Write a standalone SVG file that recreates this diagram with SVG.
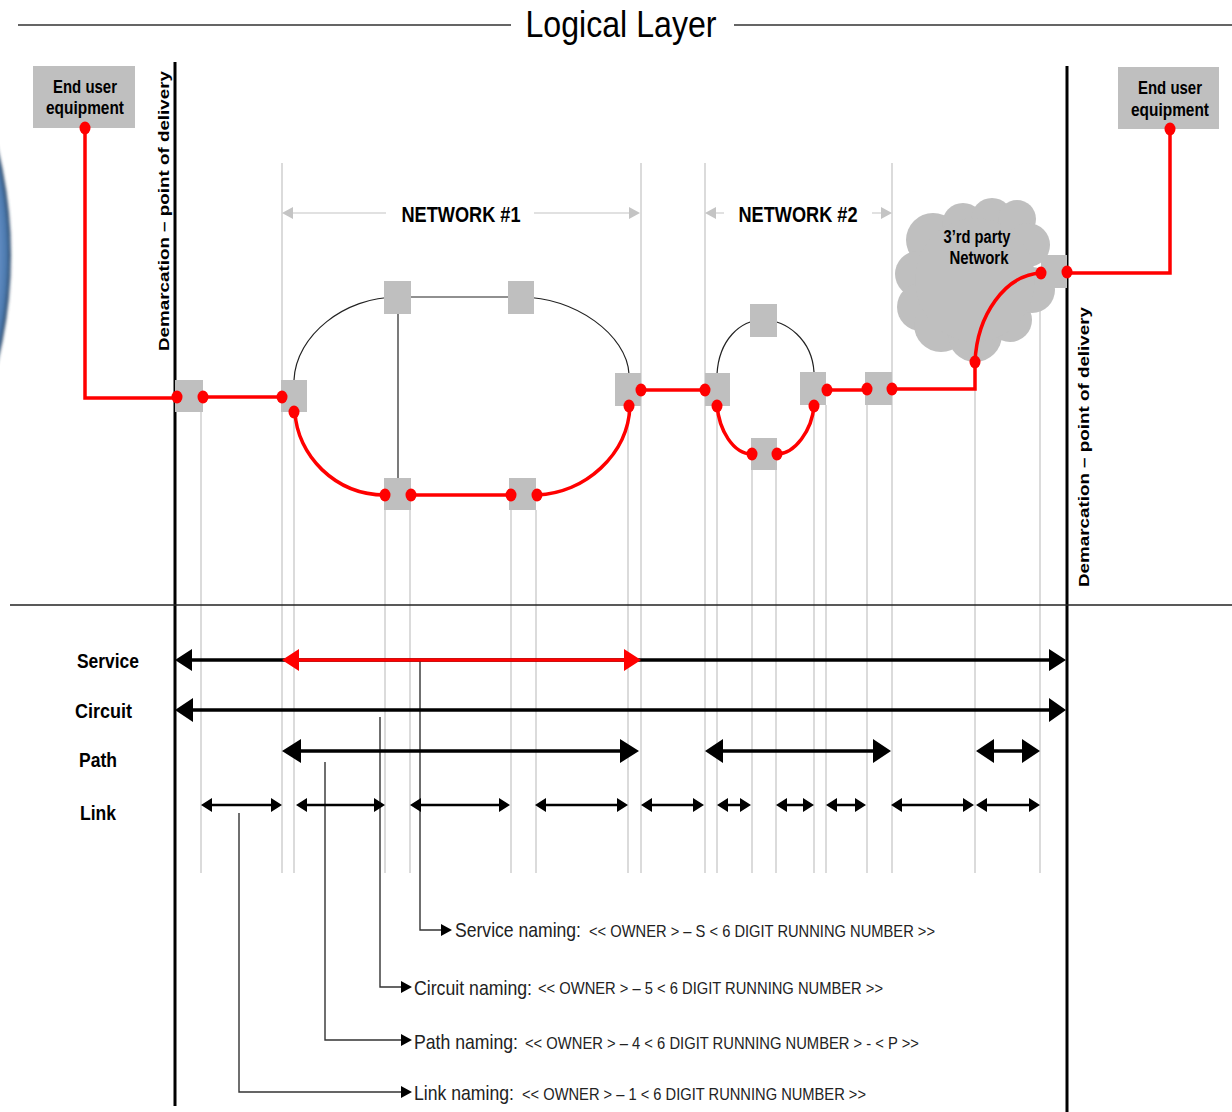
<svg xmlns="http://www.w3.org/2000/svg" width="1232" height="1112" viewBox="0 0 1232 1112">
<style>
text{font-family:"Liberation Sans",Arial,sans-serif;fill:#000}
.b{font-weight:700}
.g{fill:#bfbfbf}
.gl{stroke:#c4c4c4;stroke-width:1.2;fill:none}
.r{stroke:#f00;stroke-width:3.5;fill:none}
.k{stroke:#222;stroke-width:1.2;fill:none}
.d{fill:#f00}
.a3{stroke:#000;stroke-width:3.5;fill:none}
.a2{stroke:#000;stroke-width:2.5;fill:none}
.c{stroke:#333;stroke-width:1.4;fill:none}
.lab{font-size:21px;font-weight:700}
.nm{font-size:21px;fill:#222}
.fm{font-size:17px;fill:#222}
</style>
<defs>
<radialGradient id="orb" gradientUnits="userSpaceOnUse" cx="-430" cy="255" r="441">
<stop offset="0.975" stop-color="#5f8ac0"/><stop offset="0.99" stop-color="#4a78ad"/><stop offset="1" stop-color="#2c4560"/>
</radialGradient>
<filter id="soft" x="-10%" y="-10%" width="120%" height="120%"><feGaussianBlur stdDeviation="1.8"/></filter>
</defs>

<circle id="orb-edge" cx="-430" cy="255" r="441" fill="url(#orb)" filter="url(#soft)"/>

<g id="guides" class="gl">
<path d="M201 405V873M282 163V873M294 410V873M385 510V873M410 510V873M511 510V873M536 510V873M628 405V873M641 163V873M705 163V873M717 405V873M752 470V873M776 470V873M814 405V873M826 405V873M867 405V873M892 163V873M975 370V873M1040 300V873"/>
</g>

<g id="title">
<path d="M18 25H511M734 25H1232" stroke="#333" stroke-width="1.4"/>
<text x="621" y="37" font-size="37" text-anchor="middle" textLength="191" lengthAdjust="spacingAndGlyphs">Logical Layer</text>
</g>

<g id="demarcation-left">
<path d="M175 62V1106" stroke="#000" stroke-width="3"/>
<text transform="translate(169 351) rotate(-90)" font-size="15.5" class="b" textLength="280" lengthAdjust="spacingAndGlyphs">Demarcation – point of delivery</text>
</g>
<g id="demarcation-right">
<path d="M1067 66V1112" stroke="#000" stroke-width="3"/>
<text transform="translate(1089 587) rotate(-90)" font-size="15.5" class="b" textLength="280" lengthAdjust="spacingAndGlyphs">Demarcation – point of delivery</text>
</g>
<path id="divider" d="M10 605H1232" stroke="#222" stroke-width="1.4"/>

<g id="eq-left">
<rect x="33" y="66" width="102" height="62" class="g"/>
<text x="85" y="93" font-size="19" class="b" text-anchor="middle" textLength="64" lengthAdjust="spacingAndGlyphs">End user</text>
<text x="85" y="114" font-size="19" class="b" text-anchor="middle" textLength="78" lengthAdjust="spacingAndGlyphs">equipment</text>
</g>
<g id="eq-right">
<rect x="1118" y="67" width="101" height="62" class="g"/>
<text x="1170" y="94" font-size="19" class="b" text-anchor="middle" textLength="64" lengthAdjust="spacingAndGlyphs">End user</text>
<text x="1170" y="116" font-size="19" class="b" text-anchor="middle" textLength="78" lengthAdjust="spacingAndGlyphs">equipment</text>
</g>

<g id="network-1-label">
<path d="M290 213H386M534 213H632" stroke="#c4c4c4" stroke-width="1.2"/>
<path d="M282 213L293 207V219ZM640 213L629 207V219Z" fill="#c4c4c4"/>
<text x="461" y="222" font-size="22" class="b" text-anchor="middle" textLength="119" lengthAdjust="spacingAndGlyphs">NETWORK #1</text>
</g>
<g id="network-2-label">
<path d="M712 213H724M872 213H884" stroke="#c4c4c4" stroke-width="1.2"/>
<path d="M705 213L716 207V219ZM892 213L881 207V219Z" fill="#c4c4c4"/>
<text x="798" y="222" font-size="22" class="b" text-anchor="middle" textLength="119" lengthAdjust="spacingAndGlyphs">NETWORK #2</text>
</g>

<g id="cloud" class="g">
<circle cx="933" cy="240" r="27"/><circle cx="963" cy="224" r="21"/><circle cx="992" cy="219" r="21"/><circle cx="1017" cy="219" r="19"/><circle cx="1028" cy="245" r="22"/><circle cx="918" cy="274" r="23"/><circle cx="921" cy="307" r="24"/><circle cx="941" cy="325" r="27"/><circle cx="975" cy="335" r="27"/><circle cx="1010" cy="320" r="22"/><circle cx="1032" cy="290" r="23"/><ellipse cx="975" cy="280" rx="60" ry="62"/>
<text x="977" y="243" font-size="18" class="b" text-anchor="middle" textLength="67" lengthAdjust="spacingAndGlyphs">3’rd party</text>
<text x="979" y="264" font-size="18" class="b" text-anchor="middle" textLength="59" lengthAdjust="spacingAndGlyphs">Network</text>
</g>

<g id="thin-links" class="k">
<path d="M294 380C296 335 345 297 397 297H521C575 297 627 335 629 374"/>
<path d="M398 314V478"/>
<path d="M717 374C719 340 740 320 763 320C787 320 812 340 814 372"/>
</g>

<g id="nodes" class="g">
<rect id="n1" x="175" y="380" width="28" height="32"/>
<rect id="n2" x="281" y="380" width="26" height="32"/>
<rect id="n3" x="384" y="281" width="27" height="33"/>
<rect id="n4" x="508" y="281" width="26" height="33"/>
<rect id="n5" x="384" y="478" width="27" height="32"/>
<rect id="n6" x="509" y="478" width="27" height="32"/>
<rect id="n7" x="615" y="373" width="26" height="33"/>
<rect id="n8" x="705" y="373" width="25" height="33"/>
<rect id="n9" x="750" y="304" width="27" height="33"/>
<rect id="n10" x="751" y="438" width="26" height="32"/>
<rect id="n11" x="800" y="372" width="26" height="33"/>
<rect id="n12" x="865" y="372" width="27" height="33"/>
<rect id="n13" x="1041" y="255" width="26" height="33"/>
</g>

<g id="red-links" class="r">
<path d="M85 128V398H177"/>
<path d="M203 397H282"/>
<path d="M295 412C297 455 335 495 385 495"/>
<path d="M411 495H511"/>
<path d="M537 495C585 493 628 455 630 406"/>
<path d="M641 390H705"/>
<path d="M717 405C719 430 733 454 752 454"/>
<path d="M777 454C795 454 812 430 814 406"/>
<path d="M827 390H867"/>
<path d="M892 389H975V362C977 315 1005 275 1041 273"/>
<path d="M1067 273H1170V129"/>
</g>
<g id="red-dots" class="d">
<ellipse cx="85" cy="128" rx="5.5" ry="6.5"/><ellipse cx="177" cy="397" rx="5.5" ry="6.5"/><ellipse cx="203" cy="397" rx="5.5" ry="6.5"/><ellipse cx="282" cy="397" rx="5.5" ry="6.5"/><ellipse cx="294" cy="412" rx="5.5" ry="6.5"/>
<ellipse cx="385" cy="495" rx="5.5" ry="6.5"/><ellipse cx="411" cy="495" rx="5.5" ry="6.5"/><ellipse cx="511" cy="495" rx="5.5" ry="6.5"/><ellipse cx="537" cy="495" rx="5.5" ry="6.5"/>
<ellipse cx="629" cy="406" rx="5.5" ry="6.5"/><ellipse cx="641" cy="390" rx="5.5" ry="6.5"/><ellipse cx="705" cy="390" rx="5.5" ry="6.5"/><ellipse cx="717" cy="406" rx="5.5" ry="6.5"/>
<ellipse cx="752" cy="454" rx="5.5" ry="6.5"/><ellipse cx="777" cy="454" rx="5.5" ry="6.5"/><ellipse cx="814" cy="406" rx="5.5" ry="6.5"/><ellipse cx="827" cy="390" rx="5.5" ry="6.5"/>
<ellipse cx="867" cy="389" rx="5.5" ry="6.5"/><ellipse cx="892" cy="389" rx="5.5" ry="6.5"/><ellipse cx="975" cy="362" rx="5.5" ry="6.5"/><ellipse cx="1041" cy="273" rx="5.5" ry="6.5"/><ellipse cx="1067" cy="272" rx="5.5" ry="6.5"/><ellipse cx="1170" cy="129" rx="5.5" ry="6.5"/>
</g>

<g id="labels" class="lab">
<text x="77" y="668" textLength="62" lengthAdjust="spacingAndGlyphs">Service</text>
<text x="75" y="718" textLength="57" lengthAdjust="spacingAndGlyphs">Circuit</text>
<text x="79" y="767" textLength="38" lengthAdjust="spacingAndGlyphs">Path</text>
<text x="80" y="820" textLength="36" lengthAdjust="spacingAndGlyphs">Link</text>
</g>

<g id="callout-lines" class="c">
<path d="M420 660V930H442"/>
<path d="M380 717V987H402"/>
<path d="M325 762V1040H402"/>
<path d="M239 813V1092H402"/>
</g>

<g id="span-arrows">
<g id="service">
<path d="M190 660H1052" class="a3"/>
<path d="M175 660L192 649V671ZM1066 660L1049 649V671Z" fill="#000"/>
<path d="M298 660H626" stroke="#f00" stroke-width="3.5"/>
<path d="M282 660L299 649V671ZM641 660L624 649V671Z" fill="#f00"/>
</g>
<g id="circuit">
<path d="M190 710H1052" class="a3"/>
<path d="M175 710L193 698V722ZM1066 710L1049 698V722Z" fill="#000"/>
</g>
<g id="path">
<path d="M298 751H625M720 751H876M990 751H1026" class="a3"/>
<path d="M282 751L301 739V763ZM639 751L620 739V763ZM705 751L723 739V763ZM891 751L873 739V763ZM976 751L994 739V763ZM1040 751L1022 739V763Z" fill="#000"/>
</g>
<g id="link">
<path d="M208 805H276M303 805H379M417 805H504M542 805H621M648 805H698M724 805H745M783 805H808M833 805H860M898 805H968M983 805H1034" class="a2"/>
<path d="M201 805L212 798V812ZM282 805L271 798V812ZM296 805L307 798V812ZM385 805L374 798V812ZM410 805L421 798V812ZM510 805L499 798V812ZM535 805L546 798V812ZM628 805L617 798V812ZM641 805L652 798V812ZM704 805L693 798V812ZM717 805L728 798V812ZM751 805L740 798V812ZM776 805L787 798V812ZM814 805L803 798V812ZM826 805L837 798V812ZM866 805L855 798V812ZM891 805L902 798V812ZM974 805L963 798V812ZM976 805L987 798V812ZM1040 805L1029 798V812Z" fill="#000"/>
</g>
<path id="callout-heads" d="M452 930L441 924V936ZM412 987L401 981V993ZM412 1040L401 1034V1046ZM412 1092L401 1086V1098Z" fill="#000"/>
</g>

<g id="naming">
<text x="455" y="937" class="nm" textLength="126" lengthAdjust="spacingAndGlyphs">Service naming:</text>
<text x="589" y="937" class="fm" textLength="346" lengthAdjust="spacingAndGlyphs">&lt;&lt; OWNER &gt; – S &lt; 6 DIGIT RUNNING NUMBER &gt;&gt;</text>
<text x="414" y="995" class="nm" textLength="118" lengthAdjust="spacingAndGlyphs">Circuit naming:</text>
<text x="538" y="994" class="fm" textLength="345" lengthAdjust="spacingAndGlyphs">&lt;&lt; OWNER &gt; – 5 &lt; 6 DIGIT RUNNING NUMBER &gt;&gt;</text>
<text x="414" y="1049" class="nm" textLength="104" lengthAdjust="spacingAndGlyphs">Path naming:</text>
<text x="525" y="1049" class="fm" textLength="394" lengthAdjust="spacingAndGlyphs">&lt;&lt; OWNER &gt; – 4 &lt; 6 DIGIT RUNNING NUMBER &gt; - &lt; P &gt;&gt;</text>
<text x="414" y="1100" class="nm" textLength="100" lengthAdjust="spacingAndGlyphs">Link naming:</text>
<text x="522" y="1100" class="fm" textLength="344" lengthAdjust="spacingAndGlyphs">&lt;&lt; OWNER &gt; – 1 &lt; 6 DIGIT RUNNING NUMBER &gt;&gt;</text>
</g>
</svg>
